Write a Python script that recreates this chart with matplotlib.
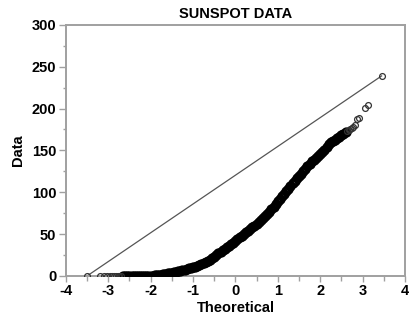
import matplotlib
matplotlib.use("Agg")
import matplotlib.pyplot as plt
from matplotlib.ticker import MultipleLocator

plt.rcParams['font.family'] = ['Liberation Sans', 'DejaVu Sans']
plt.rcParams['font.weight'] = 'bold'

title = "SUNSPOT DATA"
xlabel = "Theoretical"
ylabel = "Data"

# theoretical normal quantiles
theoretical = [
    -3.50, -3.20, -3.10, -3.03, -2.97, -2.92, -2.87, -2.82, -2.78, -2.74, -2.70,
    -2.65, -2.60, -2.55, -2.50, -2.45, -2.40, -2.35, -2.30, -2.25, -2.20, -2.15,
    -2.10, -2.05, -2.00, -1.95, -1.90, -1.85, -1.80, -1.75, -1.70, -1.65, -1.60,
    -1.55, -1.50, -1.45, -1.40, -1.35, -1.30, -1.25, -1.20, -1.15, -1.10, -1.05,
    -1.00, -0.95, -0.90, -0.85, -0.80, -0.75, -0.70, -0.65, -0.60, -0.55, -0.50,
    -0.45, -0.40, -0.35, -0.30, -0.25, -0.20, -0.15, -0.10, -0.05, 0.00, 0.05,
    0.10, 0.15, 0.20, 0.25, 0.30, 0.35, 0.40, 0.45, 0.50, 0.55, 0.60, 0.65,
    0.70, 0.75, 0.80, 0.85, 0.90, 0.95, 1.00, 1.05, 1.10, 1.15, 1.20, 1.25,
    1.30, 1.35, 1.40, 1.45, 1.50, 1.55, 1.60, 1.65, 1.70, 1.75, 1.80, 1.85,
    1.90, 1.95, 2.00, 2.05, 2.10, 2.15, 2.20, 2.25, 2.30, 2.35, 2.40, 2.45,
    2.50, 2.55, 2.60, 2.64, 2.68, 2.71, 2.74, 2.78, 2.82, 2.88, 2.92, 3.05,
    3.14, 3.45,
]
# sorted sunspot data values
data = [
    0, 0, 0, 0, 0, 0, 0, 0, 0, 0, 0,
    0, 0, 0, 0, 0, 0, 0, 0, 0, 0, 0,
    0, 0, 0.2, 0.5, 0.8, 1.0, 1.2, 1.6, 2.0, 2.5, 3.0,
    3.5, 4.0, 4.5, 5.0, 5.6, 6.3, 6.9, 7.5, 8.2, 9.0, 9.5,
    10.2, 11.0, 12.0, 13.0, 14.0, 15.0, 16.2, 17.8, 19.5, 21.2, 23.0,
    25.0, 27.0, 29.0, 31.0, 32.8, 34.5, 36.2, 38.0, 40.0, 42.0, 44.0,
    46.0, 48.0, 50.0, 52.0, 54.0, 56.0, 58.0, 60.0, 62.0, 64.5, 67.0, 69.5,
    72.0, 74.5, 77.0, 80.0, 83.0, 86.0, 89.0, 92.0, 95.0, 98.0, 101.0, 104.5,
    108.0, 111.0, 114.0, 116.5, 119.0, 122.0, 125.0, 128.0, 131.0, 134.0, 137.0, 139.0,
    141.0, 143.5, 146.0, 148.5, 151.0, 154.5, 158.0, 159.5, 161.0, 163.0, 165.0, 166.5,
    168.0, 170.0, 172.0, 173.0, 174.5, 176.0, 177.0, 178.0, 180.0, 188.0, 189.0, 201.0,
    204.0, 239.0,
]

xticks = [-4, -3, -2, -1, 0, 1, 2, 3, 4]
yticks = [0, 50, 100, 150, 200, 250, 300]

fig = plt.figure(figsize=(4.09, 3.27), dpi=100)
ax = fig.add_axes([0.161, 0.156, 0.829, 0.768])

spine_col = '#a0a0a0'
ax.plot([theoretical[0], theoretical[-1]], [data[0], data[-1]],
        color='#555555', lw=0.9, zorder=2)

# dense body drawn with heavier circles (overlapping thousands in original)
n_body_end = len(theoretical) - 11
ax.plot(theoretical[11:n_body_end], data[11:n_body_end], linestyle='none',
        marker='o', ms=5.0, mfc='none', mec='black', mew=2.4, zorder=3)
# sparse tails
tail_x = theoretical[:11] + theoretical[n_body_end:]
tail_y = data[:11] + data[n_body_end:]
ax.plot(tail_x, tail_y, linestyle='none', marker='o', ms=4.2,
        mfc='none', mec='#333333', mew=0.9, zorder=3)

ax.set_xlim(-4, 4)
ax.set_ylim(0, 300)
ax.set_xticks(xticks)
ax.set_yticks(yticks)
ax.xaxis.set_minor_locator(MultipleLocator(0.5))
ax.yaxis.set_minor_locator(MultipleLocator(25))
ax.set_xticklabels([str(t) for t in xticks], fontsize=10.5, fontweight='bold')
ax.set_yticklabels([str(t) for t in yticks], fontsize=10.5, fontweight='bold')

for s in ax.spines.values():
    s.set_color(spine_col)
    s.set_linewidth(1.4)
ax.tick_params(axis='both', which='both', direction='out', color=spine_col, width=1.0)
ax.tick_params(axis='x', which='major', length=4, pad=2)
ax.tick_params(axis='x', which='minor', length=3.5)
ax.tick_params(axis='y', which='major', length=5, pad=2)
ax.tick_params(axis='y', which='minor', length=2.5)

ax.set_title(title, fontsize=10.5, fontweight='bold', pad=5)
ax.set_xlabel(xlabel, fontsize=10.5, fontweight='bold', labelpad=2)
ax.set_ylabel(ylabel, fontsize=10.5, fontweight='bold', labelpad=5)

fig.savefig("out.png", dpi=100)
